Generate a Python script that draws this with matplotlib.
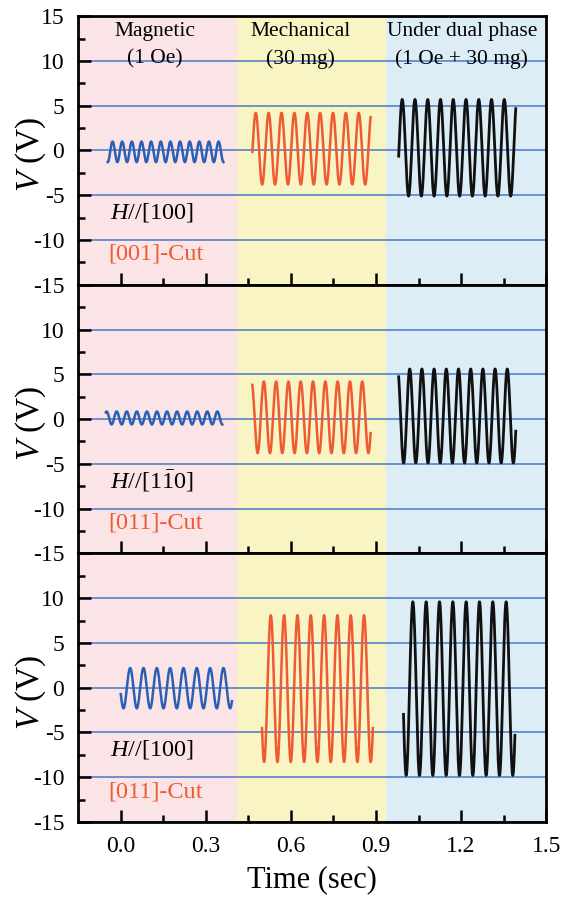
import numpy as np
import matplotlib
matplotlib.use('Agg')
import matplotlib.pyplot as plt

plt.rcParams['font.family'] = ['Liberation Serif', 'DejaVu Serif']
plt.rcParams['mathtext.fontset'] = 'custom'
plt.rcParams['mathtext.rm'] = 'Liberation Serif'
plt.rcParams['mathtext.it'] = 'Liberation Serif:italic'

# each panel: magnetic (blue), mechanical (red), dual phase (black)
t_start = [[-0.046, 0.464, 0.980], [-0.053, 0.464, 0.980], [0.000, 0.498, 0.997]]
t_end = [[0.362, 0.881, 1.393], [0.358, 0.881, 1.393], [0.392, 0.889, 1.390]]
period = [[0.034, 0.0454, 0.045], [0.0355, 0.0434, 0.043], [0.047, 0.047, 0.047]]
first_peak = [[-0.029, 0.476, 0.9925], [-0.050, 0.461, 0.976], [0.033, 0.529, 1.030]]
v_high = [[1.0, 4.2, 5.7], [0.85, 4.2, 5.6], [2.2, 8.1, 9.6]]
v_low = [[-1.3, -3.8, -5.1], [-0.6, -3.8, -4.9], [-2.3, -8.3, -9.8]]

direction = [r'$\mathit{H}$//[100]', r'$\mathit{H}$//[1$\bar{\mathrm{1}}$0]', r'$\mathit{H}$//[100]']
cut = ['[001]-Cut', '[011]-Cut', '[011]-Cut']

phase_edges = [-0.15, 0.411, 0.937, 1.5]
phase_colors = ['#fbe4e6', '#f8f4c4', '#dcedf6']
line_colors = ['#2b5fb4', '#f05a33', '#111111']

fig, axes = plt.subplots(3, 1, figsize=(5.63, 8.98), dpi=100, sharex=True)
fig.subplots_adjust(left=0.139, right=0.970, top=0.982, bottom=0.0846, hspace=0)

for i, ax in enumerate(axes):
    for k in range(3):
        ax.axvspan(phase_edges[k], phase_edges[k + 1], color=phase_colors[k], lw=0, zorder=0)
    for k in range(3):
        t = np.linspace(t_start[i][k], t_end[i][k], 600)
        mid = (v_high[i][k] + v_low[i][k]) / 2
        amp = (v_high[i][k] - v_low[i][k]) / 2
        v = mid + amp * np.cos(2 * np.pi * (t - first_peak[i][k]) / period[i][k])
        ax.plot(t, v, color=line_colors[k], lw=1.8 if k < 2 else 2.0)

    ax.set_xlim(-0.15, 1.5)
    ax.set_ylim(-15, 15)
    ax.set_yticks([-15, -10, -5, 0, 5, 10, 15])
    labels = ['-15', '-10', '-5', '0', '5', '10', '15' if i == 0 else '']
    ax.set_yticklabels(labels)
    ax.set_yticks(np.arange(-12.5, 15, 5), minor=True)
    ax.set_xticks([0.0, 0.3, 0.6, 0.9, 1.2, 1.5])
    ax.set_xticks([0.15, 0.45, 0.75, 1.05, 1.35], minor=True)
    ax.grid(axis='y', color='#4a78c8', lw=1.1)
    ax.tick_params(which='both', direction='in', width=1.8, labelsize=17,
                   top=False, right=False)
    ax.tick_params(axis='y', pad=10)
    ax.tick_params(axis='x', pad=10)
    ax.tick_params(which='major', length=9)
    ax.tick_params(which='minor', length=5)
    for s in ax.spines.values():
        s.set_linewidth(2.0)
    ax.set_ylabel(r'$\mathit{V}$ (V)', fontsize=24)
    ax.yaxis.set_label_coords(-0.064, 0.485)

    ax.text(0.109, -6.9, direction[i], fontsize=17.5, ha='center', va='center')
    ax.text(0.123, -11.6, cut[i], fontsize=17.5, color='#f05a33', ha='center', va='center')

hdr = 15.5
axes[0].text(0.12, 13.3, 'Magnetic', fontsize=hdr, ha='center', va='center')
axes[0].text(0.12, 10.2, '(1 Oe)', fontsize=hdr, ha='center', va='center')
axes[0].text(0.635, 13.3, 'Mechanical', fontsize=hdr, ha='center', va='center')
axes[0].text(0.635, 10.2, '(30 mg)', fontsize=hdr, ha='center', va='center')
axes[0].text(1.205, 13.3, 'Under dual phase', fontsize=hdr, ha='center', va='center')
axes[0].text(1.2, 10.2, '(1 Oe + 30 mg)', fontsize=hdr, ha='center', va='center')

axes[2].set_xticklabels(['0.0', '0.3', '0.6', '0.9', '1.2', '1.5'])
axes[2].set_xlabel('Time (sec)', fontsize=22, labelpad=6)

plt.savefig('out.png', dpi=100)
